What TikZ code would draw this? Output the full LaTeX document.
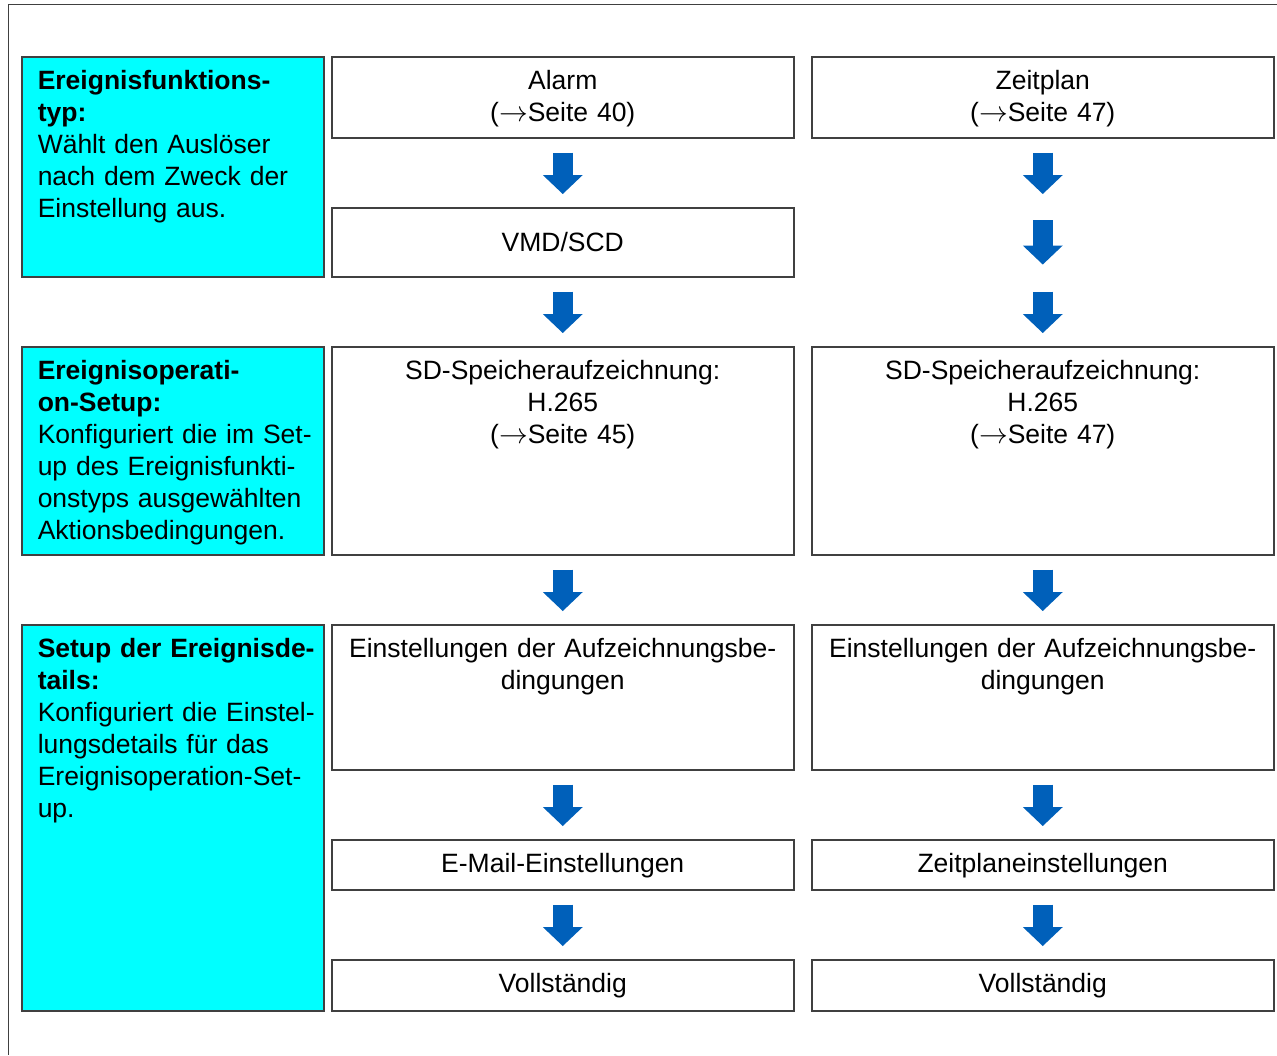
\documentclass[tikz,border=0pt]{standalone}
\usepackage{fontspec}
\setmainfont{Liberation Sans}
\usetikzlibrary{arrows.meta}
\definecolor{phasecyan}{RGB}{0,255,255}
\definecolor{flowblue}{RGB}{0,96,186}
\tikzset{
  box/.style={draw=black!75, line width=0.75pt, fill=white, anchor=north west,
    inner xsep=0pt, inner ysep=0pt, text width=231pt, align=center, text height=16.5pt},
  phase/.style={box, fill=phasecyan, text width=151pt, align=left,
    execute at begin node={\leftskip=8pt}},
  flow/.style={draw=flowblue, line width=10pt, -{Triangle[length=9.5pt,width=20pt,line width=0pt]}},
}
\begin{document}
\begin{tikzpicture}[x=0.5pt, y=-0.5pt, font=\fontsize{13.25pt}{16pt}\selectfont]
\useasboundingbox (0,0) rectangle (1277,1055);
% page frame
\draw[black!75, line width=0.5pt] (1277,4.5) -- (8,4.5) -- (8,1055);
% phases
\node[phase, text depth=93.5pt] (typ) at (21,56) {\textbf{Ereignisfunktions-}\\\textbf{typ:}\\W\"ahlt den Ausl\"oser\\nach dem Zweck der\\Einstellung aus.};
\node[phase, text depth=87.5pt] (op) at (21,346) {\textbf{Ereignisoperati-}\\\textbf{on-Setup:}\\Konfiguriert die im Set-\\up des Ereignisfunkti-\\onstyps ausgew\"ahlten\\Aktionsbedingungen.};
\node[phase, text depth=176.5pt] (det) at (21,624) {\textbf{Setup der Ereignisde-}\\\textbf{tails:}\\Konfiguriert die Einstel-\\lungsdetails f\"ur das\\Ereignisoperation-Set-\\up.};
% alarm column
\node[box, text depth=24pt] (alarm) at (331,56) {Alarm\\($\rightarrow$Seite 40)};
\node[box, text height=22pt, text depth=12.5pt] (vmd) at (331,207) {VMD/SCD};
\node[box, text depth=87.5pt] (sdA) at (331,346) {SD-Speicheraufzeichnung:\\H.265\\($\rightarrow$Seite 45)};
\node[box, text depth=56pt] (recA) at (331,624) {Einstellungen der Aufzeichnungsbe-\\dingungen};
\node[box, text depth=8.5pt] (mail) at (331,839) {E-Mail-Einstellungen};
\node[box, text depth=9pt] (doneA) at (331,959) {Vollst\"andig};
% schedule column
\node[box, text depth=24pt] (plan) at (811,56) {Zeitplan\\($\rightarrow$Seite 47)};
\node[box, text depth=87.5pt] (sdB) at (811,346) {SD-Speicheraufzeichnung:\\H.265\\($\rightarrow$Seite 47)};
\node[box, text depth=56pt] (recB) at (811,624) {Einstellungen der Aufzeichnungsbe-\\dingungen};
\node[box, text depth=8.5pt] (sched) at (811,839) {Zeitplaneinstellungen};
\node[box, text depth=9pt] (doneB) at (811,959) {Vollst\"andig};
\coordinate (gapT) at (vmd.north -| plan.south);
\coordinate (gapB) at (vmd.south -| plan.south);
% arrows, alarm column
\draw[flow] ([yshift=-7pt]alarm.south) -- ([yshift=6.5pt]vmd.north);
\draw[flow] ([yshift=-7pt]vmd.south) -- ([yshift=6.5pt]sdA.north);
\draw[flow] ([yshift=-7pt]sdA.south) -- ([yshift=6.5pt]recA.north);
\draw[flow] ([yshift=-7pt]recA.south) -- ([yshift=6.5pt]mail.north);
\draw[flow] ([yshift=-7pt]mail.south) -- ([yshift=6.5pt]doneA.north);
% arrows, schedule column
\draw[flow] ([yshift=-7pt]plan.south) -- ([yshift=6.5pt]gapT);
\draw[flow] ([yshift=-6.5pt]gapT) -- ([yshift=6.5pt]gapB);
\draw[flow] ([yshift=-7pt]gapB) -- ([yshift=6.5pt]sdB.north);
\draw[flow] ([yshift=-7pt]sdB.south) -- ([yshift=6.5pt]recB.north);
\draw[flow] ([yshift=-7pt]recB.south) -- ([yshift=6.5pt]sched.north);
\draw[flow] ([yshift=-7pt]sched.south) -- ([yshift=6.5pt]doneB.north);
\end{tikzpicture}
\end{document}
